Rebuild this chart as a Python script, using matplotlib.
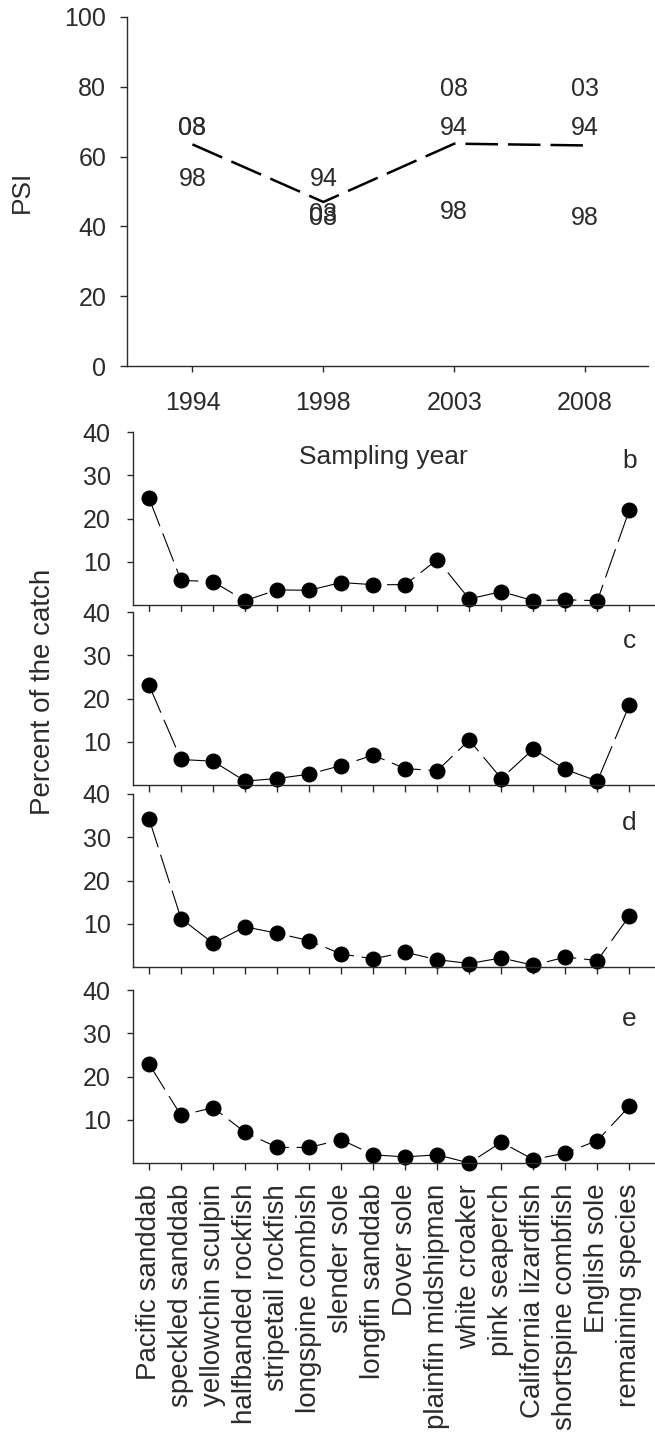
import matplotlib
matplotlib.use("Agg")
import matplotlib.pyplot as plt

plt.rcParams["font.family"] = ["Liberation Sans", "DejaVu Sans"]
INK = "#2b2b2b"

# --- panel a: PSI between sampling years ---
YEARS = ["1994", "1998", "2003", "2008"]
PSI = [63.5, 47.0, 63.7, 63.2]
# year labels printed in each column: column index, label, PSI value
PAIR_COL = [0, 0, 0, 1, 1, 1, 2, 2, 2, 3, 3, 3]
PAIR_TXT = ["08", "03", "98", "94", "03", "08", "08", "94", "98", "03", "94", "98"]
PAIR_VAL = [68.3, 68.3, 53.6, 53.6, 43.6, 42.4, 79.4, 68.3, 44.0, 79.4, 68.3, 42.5]

# --- panels b-e: percent of the catch by species ---
SPECIES = ["Pacific sanddab", "speckled sanddab", "yellowchin sculpin",
           "halfbanded rockfish", "stripetail rockfish", "longspine combish",
           "slender sole", "longfin sanddab", "Dover sole", "plainfin midshipman",
           "white croaker", "pink seaperch", "California lizardfish",
           "shortspine combfish", "English sole", "remaining species"]
PCT_B = [24.7, 5.7, 5.4, 1.0, 3.5, 3.4, 5.2, 4.7, 4.7, 10.5, 1.4, 3.1, 1.0, 1.2, 1.0, 22.0]
PCT_C = [23.1, 5.9, 5.5, 0.9, 1.5, 2.5, 4.5, 6.9, 3.8, 3.3, 10.4, 1.5, 8.3, 3.6, 0.9, 18.5]
PCT_D = [34.3, 11.2, 5.5, 9.3, 7.8, 6.1, 3.0, 1.9, 3.4, 1.7, 0.8, 2.1, 0.4, 2.3, 1.5, 11.8]
PCT_E = [22.9, 11.0, 12.8, 7.1, 3.6, 3.6, 5.4, 1.9, 1.4, 1.9, 0.0, 4.8, 0.8, 2.3, 5.2, 13.1]
PANELS = [("b", PCT_B), ("c", PCT_C), ("d", PCT_D), ("e", PCT_E)]

W, H = 655, 1443
fig = plt.figure(figsize=(W / 100, H / 100), dpi=100)


def box(left, right, top, bottom):
    return [left / W, 1 - bottom / H, (right - left) / W, (bottom - top) / H]


def style(ax):
    for s in ("top", "right"):
        ax.spines[s].set_visible(False)
    for s in ("left", "bottom"):
        ax.spines[s].set_linewidth(1.0)
        ax.spines[s].set_color(INK)
    ax.tick_params(colors=INK, labelcolor=INK, labelsize=18, width=1.0)


# top panel
ax = fig.add_axes(box(127, 648, 17, 366))
style(ax)
xs = list(range(len(YEARS)))
ax.plot(xs, PSI, color="k", lw=1.8, dashes=(13, 4))
for c, t, v in zip(PAIR_COL, PAIR_TXT, PAIR_VAL):
    ax.text(c, v, t, ha="center", va="center", fontsize=18, color=INK)
ax.set_xlim(-0.5, 3.48)
ax.set_ylim(0, 100)
ax.set_yticks(range(0, 101, 20))
ax.set_xticks(xs)
ax.set_xticklabels(YEARS)
ax.tick_params(axis="x", length=4, pad=14)
ax.tick_params(axis="y", length=5, pad=10)
fig.text(22 / W, 1 - 192 / H, "PSI", rotation=90, ha="center", va="center",
         fontsize=19, color=INK)
fig.text(383 / W, 1 - 457 / H, "Sampling year", ha="center", va="center",
         fontsize=19, color=INK)

# species panels
tops = [432, 612, 794, 990]
xi = list(range(len(SPECIES)))
for (tag, vals), top in zip(PANELS, tops):
    ax = fig.add_axes(box(133, 655, top, top + 173))
    style(ax)
    ax.plot(xi, vals, color="k", lw=0.8, dashes=(27, 7), marker="o", ms=10.5,
            mfc="k", mec="k", clip_on=False)
    ax.set_xlim(-0.5, 15.8)
    ax.set_ylim(0, 40)
    ax.set_yticks([10, 20, 30, 40])
    ax.set_xticks(xi)
    ax.tick_params(axis="y", length=4, pad=12)
    ax.tick_params(axis="x", length=5, pad=10)
    ax.text(15, 33.3, tag, ha="center", va="center", fontsize=19, color=INK)
    if tag == "e":
        ax.set_xticklabels(SPECIES, rotation=90, fontsize=20)
    else:
        ax.set_xticklabels([])

fig.text(43 / W, 1 - 692 / H, "Percent of the catch", rotation=90, ha="center",
         va="center", fontsize=20, color=INK)

fig.savefig("out.png", dpi=100)
